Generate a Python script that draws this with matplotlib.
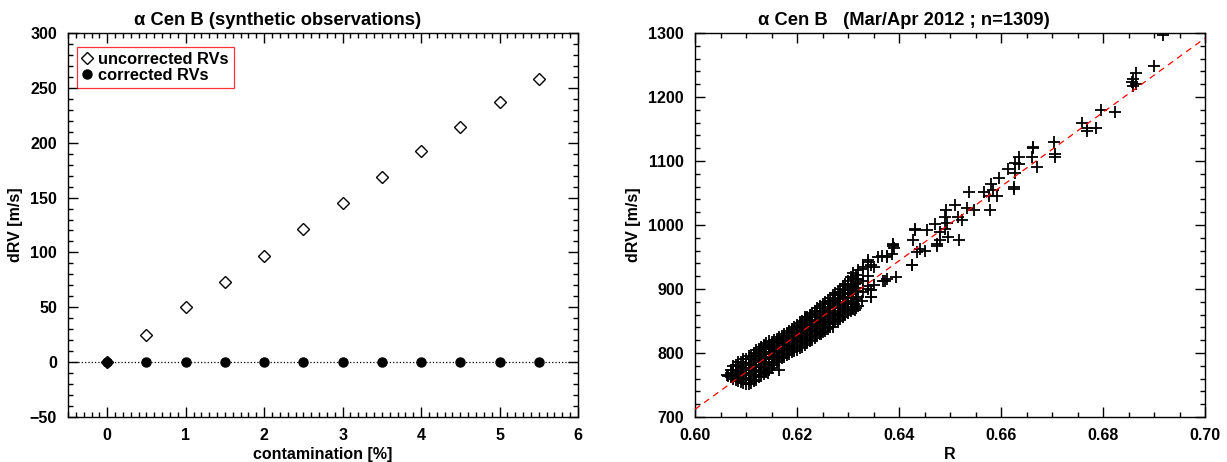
import numpy as np
import matplotlib
matplotlib.use("Agg")
import matplotlib.pyplot as plt
from matplotlib.ticker import MultipleLocator

plt.rcParams['font.family'] = ['Liberation Sans', 'DejaVu Sans']
plt.rcParams['font.weight'] = 'bold'

# --- left panel: synthetic observations ---
contamination = [0, 0.5, 1, 1.5, 2, 2.5, 3, 3.5, 4, 4.5, 5, 5.5]
rv_uncorrected = [0, 25, 50, 73, 97, 121, 145, 169, 192, 214, 237, 258]
rv_corrected = [0, 0, 0, 0, 0, 0, 0, 0, 0, 0, 0, 0]

# --- right panel: Mar/Apr 2012 ---
# sparse points read one by one
r_sparse = [0.6918, 0.6900, 0.6865, 0.6859, 0.6865, 0.6858, 0.6857, 0.6796, 0.6824,
            0.6758, 0.6769, 0.6768, 0.6786, 0.6703, 0.6663, 0.6706, 0.6705,
            0.6663, 0.6660, 0.6636, 0.6636, 0.6627, 0.6614, 0.6627, 0.6670, 0.6597,
            0.6580, 0.6626, 0.6625, 0.6585, 0.6593, 0.6577, 0.6566, 0.6537, 0.6510,
            0.6492, 0.6534, 0.6547, 0.6578, 0.6490, 0.6516, 0.6523, 0.6471, 0.6494,
            0.6490, 0.6455, 0.6431, 0.6431, 0.6480, 0.6497, 0.6518, 0.6480, 0.6474,
            0.6428, 0.6474, 0.6441, 0.6450, 0.6435, 0.6389, 0.6388, 0.6390, 0.6386,
            0.6376, 0.6367, 0.6425,
            0.6304, 0.6311, 0.6314, 0.6327, 0.6346, 0.6350, 0.6340, 0.6314, 0.6320,
            0.6330, 0.6340, 0.6346, 0.6350, 0.6359, 0.6376, 0.6389, 0.6369, 0.6376,
            0.6395, 0.6425, 0.6062, 0.6065, 0.6144, 0.6165, 0.6216, 0.6271, 0.6248,
            0.6373, 0.6346, 0.6346]
drv_sparse = [1297, 1248, 1237, 1228, 1220, 1217, 1224, 1180, 1177,
              1160, 1152, 1147, 1152, 1130, 1121, 1111, 1106,
              1122, 1107, 1106, 1095, 1097, 1088, 1082, 1090, 1074,
              1064, 1060, 1056, 1054, 1046, 1046, 1051, 1051, 1032,
              1024, 1027, 1024, 1024, 1013, 1013, 1008, 1002, 1003,
              994, 992, 994, 992, 989, 981, 977, 976, 971,
              976, 967, 963, 959, 958, 971, 967, 964, 955,
              951, 952, 937,
              893, 877, 867, 882, 887, 906, 900, 908, 916,
              932, 942, 937, 935, 950, 950, 968, 913, 915,
              919, 937, 765, 764, 768, 773, 856, 840, 830,
              913, 887, 898]

# dense band, read column by column (R, dRV values in that column)
band = [
    (0.607, [762, 768, 774]),
    (0.6075, [760, 767, 774, 780]),
    (0.608, [758, 766, 774, 781]),
    (0.6085, [756, 764, 772, 780, 786]),
    (0.609, [755, 762, 770, 778, 786]),
    (0.6095, [753, 760, 768, 776, 784, 790]),
    (0.610, [752, 760, 768, 776, 784, 790]),
    (0.6105, [751, 758, 766, 774, 782, 790, 795]),
    (0.611, [753, 761, 769, 777, 785, 793]),
    (0.6115, [756, 764, 772, 780, 788, 796, 800]),
    (0.612, [758, 766, 774, 782, 790, 798, 804]),
    (0.6125, [762, 770, 778, 786, 794, 802, 807]),
    (0.613, [764, 772, 780, 788, 796, 804, 810]),
    (0.6135, [767, 775, 783, 791, 799, 807, 812]),
    (0.614, [770, 778, 786, 794, 802, 810, 815]),
    (0.6145, [774, 782, 790, 798, 806, 813, 818]),
    (0.615, [777, 785, 793, 801, 809, 817]),
    (0.6155, [782, 790, 797, 805, 813, 820]),
    (0.616, [786, 793, 800, 808, 815, 822]),
    (0.6165, [789, 796, 803, 810, 818, 825]),
    (0.617, [792, 799, 806, 813, 820, 827]),
    (0.6175, [794, 801, 808, 815, 823, 830]),
    (0.618, [797, 804, 811, 818, 825, 832]),
    (0.6185, [799, 806, 813, 820, 827, 835]),
    (0.619, [801, 808, 815, 822, 829, 838]),
    (0.6195, [803, 810, 818, 825, 833, 840]),
    (0.620, [805, 812, 820, 828, 836, 843]),
    (0.6205, [808, 815, 823, 831, 839, 847]),
    (0.621, [810, 818, 826, 834, 842, 850]),
    (0.6215, [812, 820, 828, 836, 844, 853]),
    (0.622, [815, 823, 831, 839, 847, 856]),
    (0.6225, [818, 826, 834, 842, 850, 859]),
    (0.623, [820, 828, 836, 844, 852, 862]),
    (0.6235, [823, 831, 839, 847, 856, 866]),
    (0.624, [826, 834, 842, 850, 860, 870]),
    (0.6245, [830, 837, 845, 853, 863, 873]),
    (0.625, [833, 840, 848, 856, 866, 876]),
    (0.6255, [835, 843, 851, 859, 869, 879]),
    (0.626, [838, 846, 854, 862, 872, 882]),
    (0.6265, [841, 849, 857, 866, 876, 886]),
    (0.627, [845, 852, 860, 870, 880, 890]),
    (0.6275, [848, 855, 863, 873, 883, 893]),
    (0.628, [850, 858, 866, 876, 886, 896]),
    (0.6285, [853, 861, 870, 880, 890, 900]),
    (0.629, [856, 864, 874, 884, 894, 904]),
    (0.6295, [859, 868, 878, 888, 898, 908]),
    (0.630, [862, 872, 882, 892, 902, 912]),
    (0.6305, [865, 876, 887, 898, 908, 918]),
    (0.631, [868, 880, 892, 904, 916, 925]),
    (0.6315, [871, 884, 897, 910, 922]),
    (0.632, [874, 888, 902, 916, 930]),
    (0.633, [895, 912, 935]),
    (0.634, [905, 920, 945]),
]

# linear fit drawn as dashed red line
fit_intercept = 712.0   # dRV at R = 0.60
fit_slope = 5800.0      # m/s per unit R

r_band = []
drv_band = []
for r, vals in band:
    for v in vals:
        r_band.append(r)
        drv_band.append(v)
r_all = r_sparse + r_band
drv_all = drv_sparse + drv_band

fig = plt.figure(figsize=(12.27, 4.62), dpi=100)
ax1 = fig.add_axes([68/1227, 1-417/462, 510/1227, 384/462])
ax2 = fig.add_axes([695/1227, 1-417/462, 510/1227, 384/462])

# left
ax1.axhline(0, color='black', linestyle=':', linewidth=0.9, zorder=1)
ax1.plot(contamination, rv_uncorrected, 'D', mfc='white', mec='black', ms=6, mew=1.0,
         linestyle='none', label='uncorrected RVs', zorder=2)
ax1.plot(contamination, rv_corrected, 'o', color='black', ms=6.5,
         linestyle='none', label='corrected RVs', zorder=3)
ax1.set_xlim(-0.5, 6)
ax1.set_ylim(-50, 300)
ax1.xaxis.set_major_locator(MultipleLocator(1))
ax1.xaxis.set_minor_locator(MultipleLocator(0.1))
ax1.yaxis.set_major_locator(MultipleLocator(50))
ax1.yaxis.set_minor_locator(MultipleLocator(10))
ax1.set_xlabel('contamination [%]', fontsize=11.5, fontweight='bold', labelpad=3)
ax1.set_ylabel('dRV [m/s]', fontsize=11.5, fontweight='bold', labelpad=5)
ax1.set_title('α Cen B (synthetic observations)', fontsize=13.2, fontweight='bold',
              x=0.41, pad=6)
leg = ax1.legend(loc='upper left', bbox_to_anchor=(9/510, 1-14/384), fontsize=11.8,
                 frameon=True, fancybox=False, edgecolor='red', handlelength=0.6,
                 handletextpad=0.4, borderpad=0.3, labelspacing=0.05, borderaxespad=0)
leg.get_frame().set_linewidth(0.9)

# right
r_line = np.array([0.60, 0.70])
ax2.plot(r_line, fit_intercept + fit_slope * (r_line - 0.60), color='red',
         linestyle=(0, (5, 4)), linewidth=0.9, zorder=3)
ax2.plot(r_all, drv_all, '+', color='black', ms=9, mew=1.3, linestyle='none', zorder=2)
ax2.set_xlim(0.60, 0.70)
ax2.set_ylim(700, 1300)
ax2.xaxis.set_major_locator(MultipleLocator(0.02))
ax2.xaxis.set_minor_locator(MultipleLocator(0.005))
ax2.yaxis.set_major_locator(MultipleLocator(100))
ax2.yaxis.set_minor_locator(MultipleLocator(20))
ax2.xaxis.set_major_formatter(plt.FormatStrFormatter('%.2f'))
ax2.set_xlabel('R', fontsize=11.5, fontweight='bold', labelpad=3)
ax2.set_ylabel('dRV [m/s]', fontsize=11.5, fontweight='bold', labelpad=5)
ax2.set_title('α Cen B   (Mar/Apr 2012 ; n=1309)', fontsize=13.2, fontweight='bold',
              x=0.41, pad=6)

for ax in (ax1, ax2):
    ax.tick_params(which='both', direction='in', top=True, right=True,
                   labelsize=11.5, width=1.0)
    ax.tick_params(which='major', length=7, pad=8)
    ax.tick_params(which='minor', length=3.5)
    for lab in ax.get_xticklabels() + ax.get_yticklabels():
        lab.set_fontweight('bold')
    for s in ax.spines.values():
        s.set_linewidth(1.0)

fig.savefig('out.png', dpi=100)
